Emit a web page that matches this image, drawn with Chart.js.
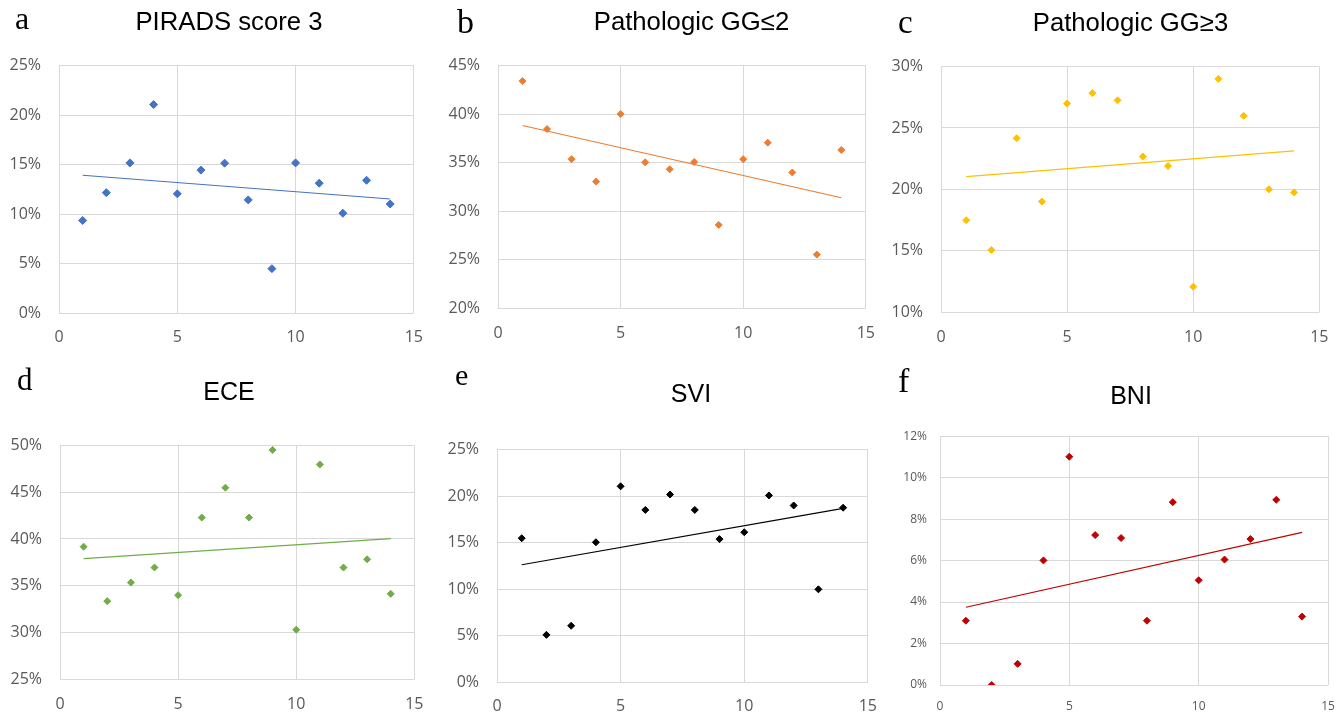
<!DOCTYPE html>
<html>
<head>
<meta charset="utf-8">
<script src="https://cdn.jsdelivr.net/npm/chart.js@4/dist/chart.umd.min.js"></script>
<style>
  html, body { margin: 0; padding: 0; background: #fff; }
  #wrap { position: relative; width: 1343px; height: 714px; overflow: hidden; background: #fff; }
  canvas { position: absolute; }
  svg { position: absolute; left: 0; top: 0; pointer-events: none; }
</style>
</head>
<body>
<div id="wrap">
  <canvas id="cA"></canvas><canvas id="cB"></canvas><canvas id="cC"></canvas>
  <canvas id="cD"></canvas><canvas id="cE"></canvas><canvas id="cF"></canvas>
  <svg width="1343" height="714" xmlns="http://www.w3.org/2000/svg">
    <g font-family="'Liberation Serif', 'DejaVu Serif', serif" fill="#000">
      <text x="15" y="29" font-size="32">a</text>
      <text x="457" y="33" font-size="34">b</text>
      <text x="898" y="33" font-size="33">c</text>
      <text x="17" y="390" font-size="31">d</text>
      <text x="455" y="385" font-size="30">e</text>
      <text x="898" y="392" font-size="34">f</text>
    </g>
    <g font-family="'Liberation Sans', Arial, sans-serif" fill="#000" text-anchor="middle">
      <text x="229" y="29.5" font-size="25.7">PIRADS score 3</text>
      <text x="691.5" y="30" font-size="25.7">Pathologic GG≤2</text>
      <text x="1130.5" y="30.5" font-size="25.7">Pathologic GG≥3</text>
      <text x="229" y="400" font-size="25">ECE</text>
      <text x="691" y="402" font-size="25">SVI</text>
      <text x="1131" y="404" font-size="25">BNI</text>
    </g>
  </svg>
</div>
<script>
// ---- data (values in percent) ----
const xValues = [1, 2, 3, 4, 5, 6, 7, 8, 9, 10, 11, 12, 13, 14];
const piradsScore3 = [9.35, 12.16, 15.17, 21.06, 12.04, 14.44, 15.14, 11.43, 4.48, 15.17, 13.12, 10.08, 13.41, 11.01];
const pathologicGGle2 = [43.40, 38.45, 35.35, 33.04, 40.00, 35.03, 34.31, 35.06, 28.57, 35.35, 37.05, 33.98, 25.51, 36.30];
const pathologicGGge3 = [17.48, 15.06, 24.16, 19.00, 26.99, 27.84, 27.25, 22.67, 21.90, 12.06, 29.00, 25.99, 20.00, 19.74];
const eceValues = [39.17, 33.34, 35.33, 36.94, 33.98, 42.29, 45.49, 42.29, 49.53, 30.28, 47.98, 36.94, 37.82, 34.12];
const sviValues = [15.47, 5.07, 6.05, 15.03, 21.05, 18.51, 20.17, 18.51, 15.37, 16.11, 20.07, 18.99, 9.97, 18.75];
const bniValues = [3.10, 0.00, 1.02, 6.01, 11.01, 7.23, 7.09, 3.10, 8.82, 5.05, 6.05, 7.04, 8.93, 3.30];
const xTickRange = { min: 0, max: 15, step: 5 };
const yRanges = {
  A: { min: 0, max: 25, step: 5 },
  B: { min: 20, max: 45, step: 5 },
  C: { min: 10, max: 30, step: 5 },
  D: { min: 25, max: 50, step: 5 },
  E: { min: 0, max: 25, step: 5 },
  F: { min: 0, max: 12, step: 2 }
};

// ---- layout / style ----
const YW = 56, PT = 14, PR = 24, XH = 40;
const panels = [
  { id: 'cA', key: 'A', values: piradsScore3,    color: '#4472C4', plot: { l: 59, t: 52, r: 414, b: 313 }, font: 16, yPad: 18, xPad: 15, radius: 4 },
  { id: 'cB', key: 'B', values: pathologicGGle2, color: '#ED7D31', plot: { l: 498, t: 52, r: 867, b: 308 }, font: 16, yPad: 18, xPad: 16, radius: 3.5 },
  { id: 'cC', key: 'C', values: pathologicGGge3, color: '#FFC000', plot: { l: 941, t: 53, r: 1320, b: 312 }, font: 16, yPad: 18, xPad: 15.5, radius: 3.5 },
  { id: 'cD', key: 'D', values: eceValues,       color: '#70AD47', plot: { l: 60, t: 432, r: 415, b: 679 }, font: 16, yPad: 18, xPad: 15.5, radius: 3.5 },
  { id: 'cE', key: 'E', values: sviValues,       color: '#000000', plot: { l: 497, t: 436, r: 868, b: 682 }, font: 16, yPad: 18, xPad: 15, radius: 3.5 },
  { id: 'cF', key: 'F', values: bniValues,       color: '#C00000', plot: { l: 940, t: 430, r: 1328, b: 685 }, font: 12, yPad: 13, xPad: 14, radius: 3.5 }
];

function linearFit(xs, ys) {
  const n = xs.length;
  const mx = xs.reduce((a, b) => a + b, 0) / n;
  const my = ys.reduce((a, b) => a + b, 0) / n;
  let sxy = 0, sxx = 0;
  for (let i = 0; i < n; i++) { sxy += (xs[i] - mx) * (ys[i] - my); sxx += (xs[i] - mx) ** 2; }
  const slope = sxy / sxx;
  return x => my + slope * (x - mx);
}

panels.forEach(p => {
  const cv = document.getElementById(p.id);
  const left = p.plot.l - YW, top = p.plot.t - PT;
  const w = p.plot.r + PR - left, h = p.plot.b + XH - top;
  cv.width = w; cv.height = h;
  cv.style.left = left + 'px'; cv.style.top = top + 'px';
  cv.style.width = w + 'px'; cv.style.height = h + 'px';

  const fit = linearFit(xValues, p.values);
  const xMin = Math.min(...xValues), xMax = Math.max(...xValues);
  const yr = yRanges[p.key];
  const tickFont = { family: "'Open Sans', 'Noto Sans', sans-serif", size: p.font };

  new Chart(cv, {
    type: 'scatter',
    data: {
      datasets: [
        {
          label: 'trend',
          data: [{ x: xMin, y: fit(xMin) }, { x: xMax, y: fit(xMax) }],
          showLine: true,
          borderColor: p.color,
          borderWidth: 1.2,
          pointRadius: 0,
          fill: false,
          order: 1
        },
        {
          label: 'values',
          data: xValues.map((x, i) => ({ x, y: p.values[i] })),
          pointStyle: 'rectRot',
          pointRadius: p.radius,
          backgroundColor: p.color,
          borderColor: p.color,
          borderWidth: 1,
          order: 2
        }
      ]
    },
    options: {
      responsive: false,
      animation: false,
      devicePixelRatio: 1,
      layout: { padding: { top: PT, right: PR, left: 0, bottom: 0 } },
      plugins: { legend: { display: false }, tooltip: { enabled: false }, title: { display: false } },
      scales: {
        x: {
          type: 'linear', position: 'bottom',
          min: xTickRange.min, max: xTickRange.max,
          ticks: { stepSize: xTickRange.step, color: '#595959', font: tickFont, padding: p.xPad, maxRotation: 0 },
          grid: { color: '#D9D9D9', lineWidth: 1, drawTicks: false },
          border: { display: false },
          afterFit: s => { s.height = XH; }
        },
        y: {
          type: 'linear', position: 'left',
          min: yr.min, max: yr.max,
          ticks: { stepSize: yr.step, color: '#595959', font: tickFont, padding: p.yPad, callback: v => v + '%' },
          grid: { color: '#D9D9D9', lineWidth: 1, drawTicks: false },
          border: { display: false },
          afterFit: s => { s.width = YW; }
        }
      }
    }
  });
});
</script>
</body>
</html>
